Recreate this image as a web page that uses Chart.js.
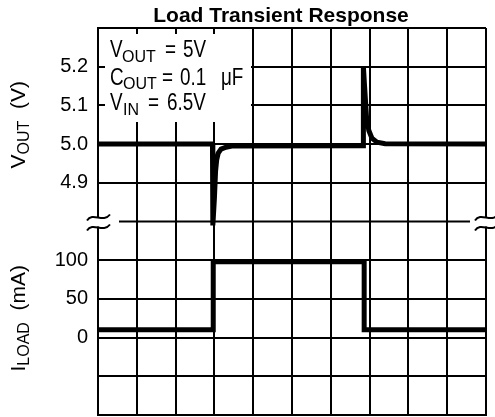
<!DOCTYPE html>
<html><head><meta charset="utf-8">
<script src="https://cdn.jsdelivr.net/npm/chart.js@4.4.1/dist/chart.umd.min.js"></script>
<style>html,body{margin:0;padding:0;background:#fff}canvas{display:block}</style>
</head><body>
<canvas id="c" width="495" height="417"></canvas>
<script>
// ---- data ----
const titleText = 'Load Transient Response';
const voutTicks = [4.9, 5.0, 5.1, 5.2];          // labelled V_OUT ticks (V)
const iloadTicks = [0, 50, 100];                  // labelled I_LOAD ticks (mA)
const voutTime = [0, 2.95, 2.96, 3.0, 3.03, 3.06, 3.10, 3.17, 3.30, 3.45, 6.83, 6.84, 6.87, 6.92, 6.98, 7.06, 7.19, 7.4, 10]; // time, divisions
const voutValues = [5.0, 5.0, 4.79, 4.86, 4.93, 4.96, 4.977, 4.987, 4.992, 4.995, 4.996, 5.20, 5.15, 5.07, 5.035, 5.015, 5.005, 5.001, 5.0];
const iloadTime = [0, 2.97, 2.97, 6.86, 6.86, 10];
const iloadValues = [10, 10, 98, 98, 10, 10];

const black = '#000';
const regFam = '"Liberation Sans", Arial, sans-serif';
const near = (a, list) => list.some(b => Math.abs(a - b) < 1e-6);
const clear = 'rgba(0,0,0,0)';

function drawParts(ctx, parts) {
  for (const p of parts) {
    ctx.save();
    ctx.translate(p.x, p.y);
    ctx.scale(p.sx || 1, 1);
    ctx.font = p.font;
    ctx.fillText(p.t, 0, 0);
    ctx.restore();
  }
}
function richCentered(ctx, parts, cx, baseY, mainFont, subFont, subDy) {
  let w = 0;
  for (const p of parts) { ctx.font = p.sub ? subFont : mainFont; w += ctx.measureText(p.t).width; }
  let x = cx - w / 2;
  for (const p of parts) {
    ctx.font = p.sub ? subFont : mainFont;
    ctx.fillText(p.t, x, baseY + (p.sub ? subDy : 0));
    x += ctx.measureText(p.t).width;
  }
}
function tilde(ctx, x0, yc, w) {
  ctx.beginPath();
  ctx.moveTo(x0, yc + 3);
  ctx.bezierCurveTo(x0 + w * 0.25, yc - 6, x0 + w * 0.7, yc + 6, x0 + w, yc - 3);
  ctx.stroke();
}

const decor = {
  id: 'decor',
  afterDraw(chart) {
    const ctx = chart.ctx;
    const area = chart.chartArea;
    ctx.save();
    ctx.fillStyle = black;
    ctx.textBaseline = 'alphabetic';
    // title
    ctx.font = 'bold 21px ' + regFam;
    ctx.textAlign = 'center';
    ctx.fillText(titleText, 281, 22);
    ctx.textAlign = 'left';

    // annotation box
    ctx.fillStyle = '#fff';
    ctx.fillRect(105, 34, 146, 88);
    ctx.fillStyle = black;
    const mf = '23px ' + regFam, sf = '16px ' + regFam, n = 0.82;
    drawParts(ctx, [
      {t: 'V', x: 110, y: 57, font: mf, sx: n}, {t: 'OUT', x: 122, y: 62, font: sf},
      {t: '=', x: 165, y: 57, font: mf, sx: n}, {t: '5V', x: 183, y: 57, font: mf, sx: n},
      {t: 'C', x: 110, y: 85, font: mf, sx: n}, {t: 'OUT', x: 123, y: 89, font: sf},
      {t: '=', x: 162, y: 85, font: mf, sx: n}, {t: '0.1', x: 180, y: 85, font: mf, sx: n}, {t: '\u03bcF', x: 221, y: 85, font: mf, sx: n},
      {t: 'V', x: 110, y: 110, font: mf, sx: n}, {t: 'IN', x: 123, y: 115, font: sf},
      {t: '=', x: 148, y: 110, font: mf, sx: n}, {t: '6.5V', x: 167, y: 110, font: mf, sx: n}
    ]);

    // axis titles (rotated)
    const tf = '21px ' + regFam, tsf = '16px ' + regFam;
    const yV = chart.scales.yV, yI = chart.scales.yI;
    ctx.save();
    ctx.translate(25, (yV.top + yV.bottom) / 2);
    ctx.rotate(-Math.PI / 2);
    richCentered(ctx, [{t: 'V'}, {t: 'OUT', sub: true}, {t: '  (V)'}], 0, 0, tf, tsf, 4);
    ctx.restore();
    ctx.save();
    ctx.translate(25, (yI.top + yI.bottom) / 2);
    ctx.rotate(-Math.PI / 2);
    richCentered(ctx, [{t: 'I'}, {t: 'LOAD', sub: true}, {t: '  (mA)'}], 0, 0, tf, tsf, 4);
    ctx.restore();

    // axis break
    const yb = (yV.top < yI.top) ? yV.bottom : yI.bottom;
    ctx.fillStyle = '#fff';
    ctx.fillRect(area.left - 4, yb - 4, 8, 9);
    ctx.fillRect(area.right - 4, yb - 4, 8, 9);
    ctx.strokeStyle = black;
    ctx.lineWidth = 2;
    ctx.beginPath();
    ctx.moveTo(119, yb); ctx.lineTo(470, yb);
    ctx.stroke();
    tilde(ctx, area.left - 11, yb - 4, 23);
    tilde(ctx, area.left - 11, yb + 6, 23);
    tilde(ctx, area.right - 11, yb - 4, 23);
    tilde(ctx, area.right - 11, yb + 6, 23);
    ctx.restore();
  }
};

const lineDs = (xs, ys, axis) => ({
  data: xs.map((t, i) => ({x: t, y: ys[i]})),
  yAxisID: axis,
  borderColor: black,
  borderWidth: 5,
  pointRadius: 0,
  tension: 0,
  fill: false,
  clip: false,
  borderJoinStyle: 'miter',
  borderCapStyle: 'butt'
});

new Chart(document.getElementById('c'), {
  type: 'line',
  data: {datasets: [lineDs(voutTime, voutValues, 'yV'), lineDs(iloadTime, iloadValues, 'yI')]},
  options: {
    responsive: false,
    animation: false,
    devicePixelRatio: 1,
    events: [],
    layout: {padding: {top: 28, right: 9, bottom: 2, left: 0}},
    plugins: {legend: {display: false}, title: {display: false}, tooltip: {enabled: false}},
    scales: {
      x: {
        type: 'linear', min: 0, max: 10,
        ticks: {display: false, stepSize: 1},
        grid: {color: black, lineWidth: 2, drawTicks: false},
        border: {color: black, width: 2},
        afterFit(s) { s.height = 0; s.paddingLeft = 0; s.paddingRight = 0; }
      },
      yI: {
        type: 'linear', position: 'left', stack: 'y', stackWeight: 1,
        min: -100, max: 150,
        ticks: {
          stepSize: 50, padding: 10, color: black, font: {family: regFam, size: 20}, autoSkip: false,
          callback(v) { return near(v, iloadTicks) ? String(v) : ''; }
        },
        grid: {color(c) { return Math.abs(c.tick.value - 150) < 1e-6 ? clear : black; }, lineWidth: 2, drawTicks: false},
        border: {color: black, width: 2},
        afterFit(s) { s.width = 98; s.paddingTop = 0; s.paddingBottom = 0; }
      },
      yV: {
        type: 'linear', position: 'left', stack: 'y', stackWeight: 1,
        min: 4.8, max: 5.3,
        ticks: {
          stepSize: 0.1, padding: 10, color: black, font: {family: regFam, size: 20}, autoSkip: false,
          callback(v) { const r = Math.round(v * 10) / 10; return near(r, voutTicks) ? r.toFixed(1) : ''; }
        },
        grid: {color(c) { return Math.abs(c.tick.value - 4.8) < 1e-6 ? clear : black; }, lineWidth: 2, drawTicks: false},
        border: {color: black, width: 2},
        afterFit(s) { s.width = 98; s.paddingTop = 0; s.paddingBottom = 0; }
      }
    }
  },
  plugins: [decor]
});
</script>
</body></html>
